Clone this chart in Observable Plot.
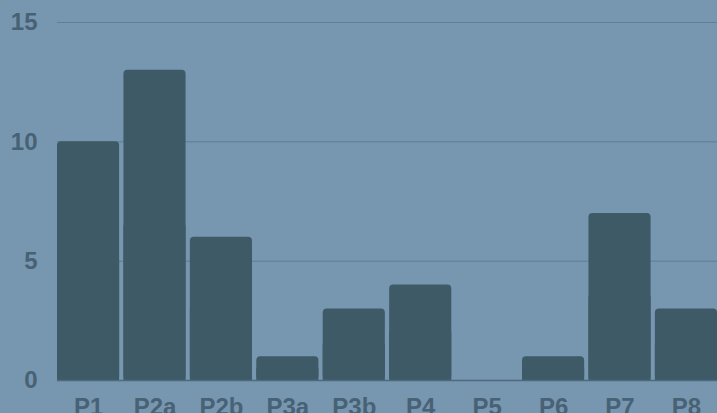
<!DOCTYPE html>
<html>
<head>
<meta charset="utf-8">
<script src="https://cdn.jsdelivr.net/npm/d3@7"></script>
<script src="https://cdn.jsdelivr.net/npm/@observablehq/plot@0.6"></script>
<style>
  html, body { margin: 0; padding: 0; background: #7796b0; overflow: hidden; }
</style>
</head>
<body>
<div id="chart"></div>
<script>
const categories = ["P1", "P2a", "P2b", "P3a", "P3b", "P4", "P5", "P6", "P7", "P8"];
const values = [10, 13, 6, 1, 3, 4, 0, 1, 7, 3];
const yTicks = [0, 5, 10, 15];

const data = categories.map((c, i) => ({ cat: c, value: values[i] }));
const barColor = "#3e5a67";
const textColor = "#486275";

const chart = Plot.plot({
  width: 717,
  height: 413,
  marginLeft: 57,
  marginRight: 0,
  marginTop: 22,
  marginBottom: 33,
  style: {
    background: "#7796b0",
    color: textColor,
    fontFamily: "'Liberation Sans', Arial, sans-serif",
    fontSize: "24px",
    fontWeight: "bold",
    overflow: "visible"
  },
  x: { domain: categories, paddingInner: 0.065, paddingOuter: 0, round: false, label: null },
  y: { domain: [0, 15], label: null },
  marks: [
    Plot.gridY(yTicks, { stroke: "#5f7d93", strokeOpacity: 1, strokeWidth: 1 }),
    Plot.barY(data, { x: "cat", y: "value", fill: barColor, rx: 4 }),
    Plot.barY(data, { x: "cat", y1: 0, y2: d => d.value / 2, fill: barColor }),
    Plot.ruleY([0], { stroke: "#4e6a7c", strokeWidth: 1.5 }),
    Plot.axisX({ tickSize: 0, tickPadding: 17, fontSize: 24, fontWeight: "bold", fill: textColor }),
    Plot.axisY({ ticks: yTicks, tickSize: 0, tickPadding: 20, fontSize: 24, fontWeight: "bold", fill: textColor })
  ]
});
document.getElementById("chart").appendChild(chart);
</script>
</body>
</html>
